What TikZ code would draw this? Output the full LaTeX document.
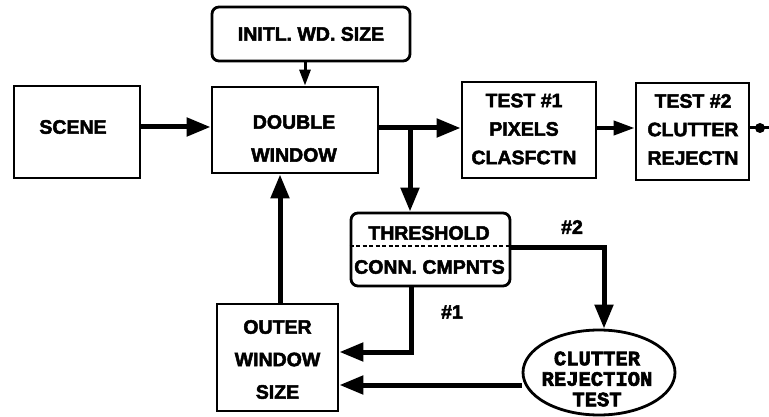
\documentclass[tikz,border=0pt]{standalone}
\usepackage{fontspec}
\setmainfont{Liberation Sans}
\newfontfamily\heavy{Liberation Sans}[BoldFeatures={FakeBold=2.5}]
\newfontfamily\monob{Liberation Mono}[BoldFeatures={FakeBold=3}]
\usetikzlibrary{arrows.meta,shapes.geometric,calc}
\begin{document}
\begin{tikzpicture}[x=1pt,y=-1pt,
  box/.style={draw, line width=2.8pt, inner sep=0pt},
  rbox/.style={box, rounded corners=7pt},
  lbl/.style={font=\heavy\bfseries\fontsize{19.5}{33}\selectfont, align=center, inner sep=0pt},
  lbltest/.style={font=\heavy\bfseries\fontsize{19.5}{28.5}\selectfont, align=center, inner sep=0pt},
  lblouter/.style={font=\heavy\bfseries\fontsize{19.5}{32.5}\selectfont, align=center, inner sep=0pt},
  mono/.style={font=\monob\bfseries\fontsize{20.5}{20.5}\selectfont, align=center, inner sep=0pt},
  flow/.style={line width=5pt, -{Triangle[length=24pt,width=18pt]}},
  thinflow/.style={line width=3pt, -{Triangle[length=16pt,width=11pt]}},
  medflow/.style={line width=4pt, -{Triangle[length=21pt,width=14pt]}},
]
\useasboundingbox (0,0) rectangle (769,417);

% boxes
\node[rbox, minimum width=198pt, minimum height=54pt] (initl) at (311,34) {};
\node[lbl] (initlt) at (311,34) {INITL. WD. SIZE};
\node[box, minimum width=126pt, minimum height=92pt] (scene) at (77,132) {};
\node[lbl] (scenet) at (73,127) {SCENE};
\node[box, minimum width=166pt, minimum height=86pt] (double) at (295,130) {};
\node[lbl] (doublet) at (294,138.5) {DOUBLE\\WINDOW};
\node[box, minimum width=134pt, minimum height=96pt] (test1) at (529,130) {};
\node[lbltest] (test1t) at (524,129) {TEST \#1\\PIXELS\\CLASFCTN};
\node[box, minimum width=113pt, minimum height=97pt] (test2) at (692.5,131.5) {};
\node[lbltest] (test2t) at (693,129.5) {TEST \#2\\CLUTTER\\REJECTN};
\node[rbox, minimum width=159pt, minimum height=73pt] (threshold) at (430.5,249.5) {};
\node[lbl] (thresht) at (429,233) {THRESHOLD};
\node[lbl] (connt) at (429.5,267) {CONN. CMPNTS};
\draw[line width=1.4pt, dash pattern=on 4pt off 2.5pt] ($(threshold.west)+(0,-3.5)$) -- ($(threshold.east)+(0,-3.5)$);
\node[box, minimum width=121pt, minimum height=107pt] (outer) at (277.5,357.5) {};
\node[lblouter] (outert) at (277.5,359.5) {OUTER\\WINDOW\\SIZE};
\node[ellipse, draw, line width=2.8pt, minimum width=152pt, minimum height=85pt, inner sep=0pt] (clutter) at (599,372.5) {};
\node[mono] (cluttert) at (597,379) {CLUTTER\\REJECTION\\TEST};

% labels
\node[lbl] (l1) at (452,312) {\#1};
\node[lbl] (l2) at (572,227) {\#2};

% connectors
\coordinate (yA) at (0,127);
\draw[flow] (scene.east |- yA) -- (double.west |- yA);
\coordinate (xB) at (305,0);
\draw[thinflow] (initl.south -| xB) -- (double.north -| xB);
\coordinate (yC) at (0,128);
\coordinate (xD) at (410,0);
\draw[flow] (double.east |- yC) -- (test1.west |- yC);
\draw[flow] (xD |- yC) -- (threshold.north -| xD);
\draw[medflow] (test1.east |- yC) -- (test2.west |- yC);
\coordinate (outend) at (769,128);
\coordinate (outdot) at (760,128);
\draw[line width=3pt] (test2.east |- yC) -- (outend);
\fill (outdot) circle (5pt);
\coordinate (xE) at (280,0);
\draw[flow] (outer.north -| xE) -- (double.south -| xE);
\coordinate (xF) at (411,0);
\coordinate (yG) at (0,352);
\draw[flow] (threshold.south -| xF) |- (outer.east |- yG);
\coordinate (yH) at (0,247);
\coordinate (xI) at (604,0);
\draw[flow] (threshold.east |- yH) -| (clutter.north -| xI);
\coordinate (yJ) at (0,385);
\draw[flow] (clutter.west |- yJ) -- (outer.east |- yJ);
\end{tikzpicture}
\end{document}
